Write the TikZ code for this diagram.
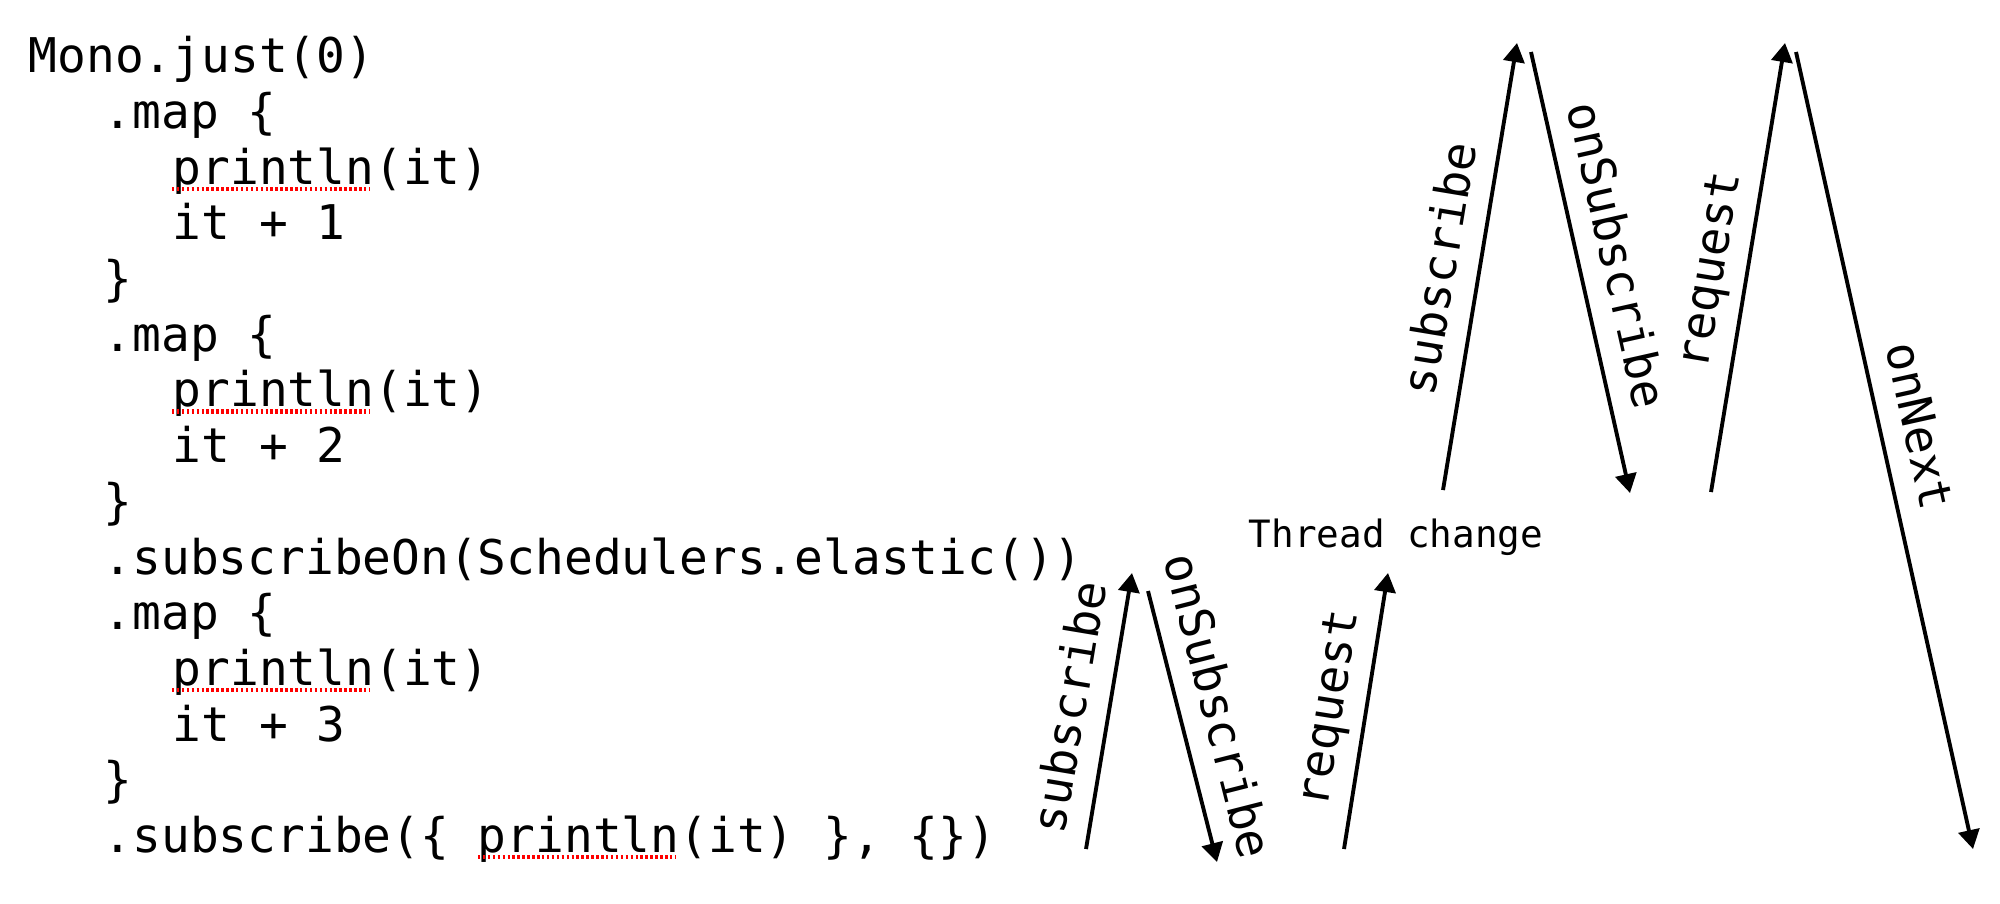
\documentclass[tikz,border=0pt]{standalone}
\usepackage{fontspec}
\usepackage{tikz}
\usetikzlibrary{arrows.meta}
\newfontfamily\codefont{DejaVu Sans Mono}

\tikzset{
	code/.style={anchor=base west, inner sep=0pt, font=\codefont\fontsize{13.6}{16}\selectfont},
	flow/.style={line width=1.1pt, -{Triangle[length=5.4pt,width=6pt]}},
	call/.style={sloped, above=3.5pt, inner sep=0pt, text height=0.75em, text depth=0.25em, font=\codefont\fontsize{13.4}{16}\selectfont},
	spell/.style={red, line width=1.2pt, dash pattern=on 0.7pt off 0.7pt}
}

\begin{document}
\begin{tikzpicture}[x=0.01cm, y=-0.01cm]
	\useasboundingbox (0,0) rectangle (2000,903);
	
	% code
	\node[code] (l0) at (28,72.7) {Mono.just(0)};
	\node[code] (l1) at (103,128.4) {.map \{};
	\node[code] (l2) at (172,184.1) {println(it)};
	\node[code] (l3) at (172,239.8) {it + 1};
	\node[code] (l4) at (103,295.5) {\}};
	\node[code] (l5) at (103,351.2) {.map \{};
	\node[code] (l6) at (172,406.9) {println(it)};
	\node[code] (l7) at (172,462.6) {it + 2};
	\node[code] (l8) at (103,518.3) {\}};
	\node[code] (l9) at (103,574) {.subscribeOn(Schedulers.elastic())};
	\node[code] (l10) at (103,629.7) {.map \{};
	\node[code] (l11) at (172,685.4) {println(it)};
	\node[code] (l12) at (172,741.1) {it + 3};
	\node[code] (l13) at (103,796.8) {\}};
	\node[code] (l14) at (103,852.5) {.subscribe(\{ println(it) \}, \{\})};
	
	\draw[spell] ([yshift=-1.3pt]l2.base west) -- ++(198,0);
	\draw[spell] ([yshift=-1.3pt]l6.base west) -- ++(198,0);
	\draw[spell] ([yshift=-1.3pt]l11.base west) -- ++(198,0);
	\draw[spell] ([yshift=-1.3pt]l14.base west) ++(375,0) -- ++(198,0);
	
	\node[anchor=base, inner sep=0pt, font=\codefont\fontsize{10.7}{12}\selectfont] (thread) at (1396,547) {Thread change};
	
	% arrow ends
	\coordinate (s1a) at (1086,849);
	\coordinate (s1b) at (1132,573);
	\coordinate (o1a) at (1148,591);
	\coordinate (o1b) at (1217,862);
	\coordinate (r1a) at (1344,849);
	\coordinate (r1b) at (1388,573);
	\coordinate (s2a) at (1443,490);
	\coordinate (s2b) at (1517,43);
	\coordinate (o2a) at (1531,52);
	\coordinate (o2b) at (1630,493);
	\coordinate (r2a) at (1711,492);
	\coordinate (r2b) at (1785,43);
	\coordinate (n2a) at (1796,52);
	\coordinate (n2b) at (1973,849);
	
	\draw[flow] (s1a) -- node[call, pos=0.49] {subscribe} (s1b);
	\draw[flow] (o1a) -- node[call, pos=0.46] {onSubscribe} (o1b);
	\draw[flow] (r1a) -- node[call, pos=0.49] {request} (r1b);
	\draw[flow] (s2a) -- node[call, pos=0.48] {subscribe} (s2b);
	\draw[flow] (o2a) -- node[call, pos=0.48] {onSubscribe} (o2b);
	\draw[flow] (r2a) -- node[call, pos=0.48] {request} (r2b);
	\draw[flow] (n2a) -- node[call, pos=0.48] {onNext} (n2b);
\end{tikzpicture}
\end{document}
